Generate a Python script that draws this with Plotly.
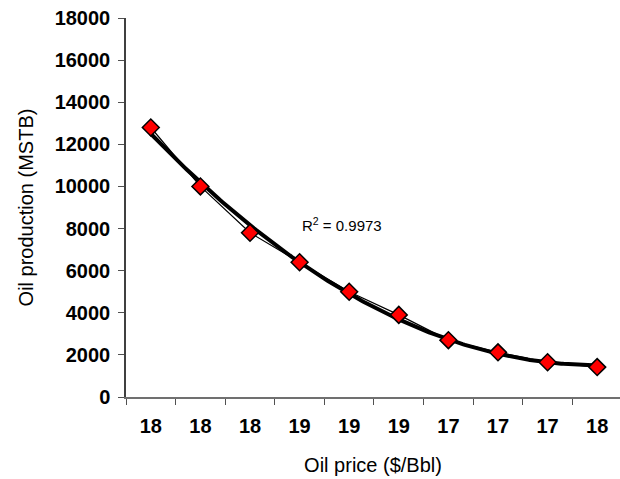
import numpy as np
import plotly.graph_objects as go

# Oil price labels for each run (categorical axis, labels repeat)
price_labels = ["18", "18", "18", "19", "19", "19", "17", "17", "17", "18"]
# Oil production (MSTB)
production = [12800, 10000, 7800, 6400, 5000, 3900, 2700, 2120, 1650, 1420]
r2_text = "R<sup>2</sup> = 0.9973"

idx = np.arange(len(production))

# Polynomial trendline over the category index
coef = np.polyfit(idx + 1, production, 2)
xt = np.linspace(0, len(production) - 1, 200)
yt = np.polyval(coef, xt + 1)

FONT = "Liberation Sans, Arial, sans-serif"

fig = go.Figure()
fig.add_trace(go.Scatter(
    x=xt, y=yt, mode="lines",
    line=dict(color="black", width=4),
    hoverinfo="skip", showlegend=False,
))
fig.add_trace(go.Scatter(
    x=idx, y=production, mode="lines+markers",
    line=dict(color="black", width=1.2),
    marker=dict(symbol="diamond", size=13, color="#ff0000",
                line=dict(color="black", width=1.5)),
    showlegend=False,
))

fig.add_annotation(
    x=3.85, y=8200, text=r2_text, showarrow=False,
    font=dict(family=FONT, size=15, color="black"),
)

fig.update_layout(
    width=620, height=479,
    margin=dict(l=126, r=0, t=18, b=82),
    paper_bgcolor="white", plot_bgcolor="white",
    font=dict(family=FONT, color="black"),
    xaxis=dict(
        range=[-0.5, 9.46],
        tickmode="array", tickvals=list(idx), ticktext=price_labels,
        ticks="", showgrid=False, zeroline=False,
        showline=True, linecolor="#707070", linewidth=1.5,
        tickfont=dict(family=FONT, size=20, color="black", weight="bold"),
        ticklabelstandoff=10,
        minor=dict(ticks="outside", tick0=-0.5, dtick=1, ticklen=6,
                   tickcolor="#505050", tickwidth=1, showgrid=False),
        title=dict(text="Oil price ($/Bbl)", standoff=22,
                   font=dict(family=FONT, size=20, color="black")),
    ),
    yaxis=dict(
        range=[0, 18000], tickvals=list(range(0, 18001, 2000)),
        tickformat="d",
        ticks="outside", ticklen=6, tickcolor="#505050",
        showgrid=False, zeroline=False,
        showline=True, linecolor="#404040", linewidth=1.5,
        tickfont=dict(family=FONT, size=20, color="black", weight="bold"),
        ticklabelstandoff=4,
        title=dict(text="Oil production (MSTB)", standoff=16,
                   font=dict(family=FONT, size=20, color="black")),
    ),
)

fig.write_html("out.html")
